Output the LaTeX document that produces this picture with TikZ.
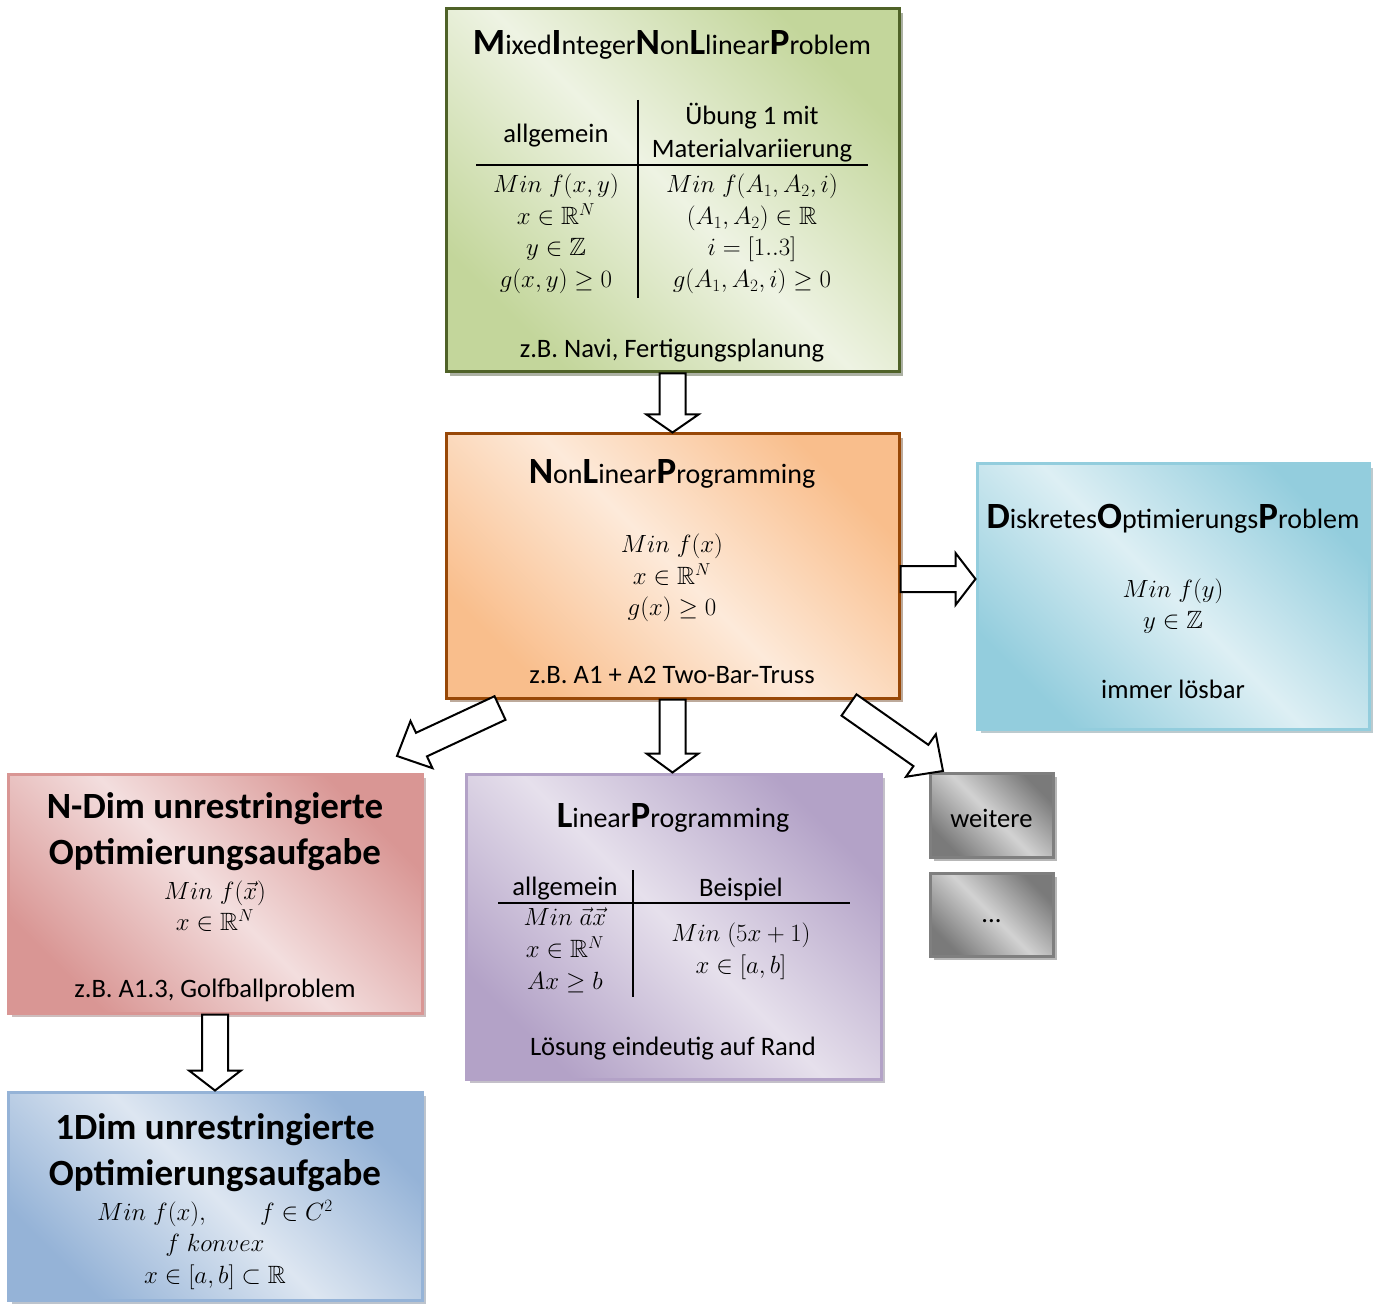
\documentclass[tikz,border=0pt]{standalone}
\usepackage{amsmath,amssymb}
\usepackage[no-math]{fontspec}
\setmainfont{Carlito}
\usetikzlibrary{calc,positioning,shadows}

\definecolor{minlpline}{HTML}{4F6228}
\definecolor{minlpdark}{HTML}{C3D69B}
\definecolor{minlplight}{HTML}{EEF3E3}
\definecolor{nlpline}{HTML}{984807}
\definecolor{nlpdark}{HTML}{F9BE8C}
\definecolor{nlplight}{HTML}{FDEADA}
\definecolor{dopline}{HTML}{93CDDD}
\definecolor{dopdark}{HTML}{93CDDD}
\definecolor{doplight}{HTML}{DDEFF4}
\definecolor{ndimline}{HTML}{D99694}
\definecolor{ndimdark}{HTML}{D99694}
\definecolor{ndimlight}{HTML}{F3DEDE}
\definecolor{lpline}{HTML}{B3A2C7}
\definecolor{lpdark}{HTML}{B3A2C7}
\definecolor{lplight}{HTML}{E6E0EC}
\definecolor{onedimline}{HTML}{95B3D7}
\definecolor{onedimdark}{HTML}{95B3D7}
\definecolor{onedimlight}{HTML}{DDE6F1}
\definecolor{moreline}{HTML}{7F7F7F}
\definecolor{moredark}{HTML}{7A7A7A}
\definecolor{morelight}{HTML}{D2D2D2}

% big bold initial letters of the titles
\newcommand{\capl}[1]{{\fontsize{37}{40}\selectfont\bfseries #1}}

\tikzset{
  colbox/.style n args={3}{rectangle, line width=3pt, inner sep=0pt, draw=#1,
    top color=#2, bottom color=#2, middle color=#3, shading angle=-45,
    drop shadow={shadow xshift=4pt, shadow yshift=-4pt, fill=#1!60!black, opacity=.4}},
  titletext/.style={font=\fontsize{28}{30}\selectfont, inner sep=0pt},
  headtext/.style={font=\fontsize{37}{46}\selectfont\bfseries, align=center, inner sep=0pt},
  bodytext/.style={font=\fontsize{26.6}{33}\selectfont, align=center, inner sep=0pt, yshift=-3pt},
  mathtext/.style={font=\fontsize{25}{31.5}\selectfont, align=center, inner sep=0pt},
  tablerule/.style={line width=2pt},
  fatarrow/.style={draw=black, fill=white, line width=2pt, line join=miter}
}

% block arrow from #2 to #3, head length #1
\newcommand{\blockarrow}[3][20pt]{%
  \coordinate (ba-h) at ($(#3)!#1!(#2)$);
  \draw[fatarrow] ($(#2)!13pt!90:(#3)$) -- ($(ba-h)!13pt!90:(#3)$)
    -- ($(ba-h)!26pt!90:(#3)$) -- (#3) -- ($(ba-h)!26pt!-90:(#3)$)
    -- ($(ba-h)!13pt!-90:(#3)$) -- ($(#2)!13pt!-90:(#3)$) -- cycle;}

\begin{document}
\begin{tikzpicture}[x=1pt,y=-1pt]
\useasboundingbox (0,0) rectangle (1377,1305);

%the boxes
\node[colbox={minlpline}{minlpdark}{minlplight}, minimum width=453pt, minimum height=363pt] (minlp) at (672.5,190.5) {};
\node[colbox={nlpline}{nlpdark}{nlplight}, minimum width=453pt, minimum height=264pt] (nlp) at (672.5,566) {};
\node[colbox={dopline}{dopdark}{doplight}, minimum width=392pt, minimum height=265pt] (dop) at (1173,596.5) {};
\node[colbox={ndimline}{ndimdark}{ndimlight}, minimum width=414pt, minimum height=239pt] (ndim) at (215,893.5) {};
\node[colbox={lpline}{lpdark}{lplight}, minimum width=415pt, minimum height=305pt] (lp) at (673.5,926.5) {};
\node[colbox={onedimline}{onedimdark}{onedimlight}, minimum width=414pt, minimum height=208pt] (onedim) at (215,1196) {};
\node[colbox={moreline}{moredark}{morelight}, minimum width=123pt, minimum height=84pt] (weitere) at (991.5,815) {};
\node[colbox={moreline}{moredark}{morelight}, minimum width=123pt, minimum height=83pt] (dots) at (991.5,914.5) {};

%MINLP
\node[titletext] (minlptitle) at (672,45) {\capl{M}ixed\capl{I}nteger\capl{N}on\capl{L}linear\capl{P}roblem};
\node[bodytext] (minlpleft) at (556,133) {allgemein};
\node[bodytext] (minlpright) at (752,130) {Übung 1 mit\\Materialvariierung};
\node[mathtext] (minlpgen) at (556,234) {$Min\;f(x,y)$\\$x\in\mathbb{R}^N$\\$y\in\mathbb{Z}$\\$g(x,y)\geq 0$};
\node[mathtext] (minlpex) at (752,234) {$Min\;f(A_1,A_2,i)$\\$(A_1,A_2)\in\mathbb{R}$\\$i=[1..3]$\\$g(A_1,A_2,i)\geq 0$};
\draw[tablerule] (638,100) -- (638,298);
\draw[tablerule] (476,165) -- (868,165);
\node[bodytext] (minlpfoot) at (672,348) {z.B. Navi, Fertigungsplanung};

%NLP
\node[titletext] (nlptitle) at (672,474) {\capl{N}on\capl{L}inear\capl{P}rogramming};
\node[mathtext] (nlpmath) at (672,578) {$Min\;f(x)$\\$x\in\mathbb{R}^N$\\$g(x)\geq 0$};
\node[bodytext] (nlpfoot) at (672,672) {z.B. A1 + A2 Two-Bar-Truss};

%DOP
\node[titletext] (doptitle) at (1173,519) {\capl{D}iskretes\capl{O}ptimierungs\capl{P}roblem};
\node[mathtext] (dopmath) at (1173,606) {$Min\;f(y)$\\$y\in\mathbb{Z}$};
\node[bodytext] (dopfoot) at (1173,686) {immer lösbar};

%N-Dim
\node[headtext] (ndimtitle) at (215,832) {N-Dim unrestringierte\\Optimierungsaufgabe};
\node[mathtext] (ndimmath) at (215,906) {$Min\;f(\vec{x})$\\$x\in\mathbb{R}^N$};
\node[bodytext] (ndimfoot) at (215,987) {z.B. A1.3, Golfballproblem};

%LP
\node[titletext] (lptitle) at (673,818) {\capl{L}inear\capl{P}rogramming};
\node[bodytext] (lpleft) at (565,886) {allgemein};
\node[bodytext] (lpright) at (741,886) {Beispiel};
\node[mathtext, font=\fontsize{25}{32}\selectfont] (lpgen) at (565,950) {$Min\;\vec{a}\vec{x}$\\$x\in\mathbb{R}^N$\\$Ax\geq b$};
\node[mathtext, font=\fontsize{25}{32}\selectfont] (lpex) at (741,951) {$Min\;(5x+1)$\\$x\in[a,b]$};
\draw[tablerule] (633,870) -- (633,997);
\draw[tablerule] (498,903) -- (850,903);
\node[bodytext] (lpfoot) at (673,1046) {Lösung eindeutig auf Rand};

%1Dim
\node[headtext] (onedimtitle) at (215,1153) {1Dim unrestringierte\\Optimierungsaufgabe};
\node[mathtext] (onedimmath) at (215,1245) {$Min\;f(x),\qquad f\in C^2$\\$f\;konvex$\\$x\in[a,b]\subset\mathbb{R}$};

%more
\node[bodytext] (weiteretext) at (weitere) {weitere};
\node[bodytext] (dotstext) at ([yshift=-4pt]dots) {...};

%the arrows
\coordinate (nlpright) at ([yshift=-13pt]nlp.east);
\coordinate (dopleft) at (dop.west |- nlpright);
\coordinate (nlpleftout) at (500,708);
\coordinate (ndimin) at (397,756);
\coordinate (nlprightout) at (849,705);
\coordinate (weiterein) at (943,771);
\coordinate (lpin) at (nlp.south |- lp.north);
\blockarrow[18pt]{minlp.south}{nlp.north}
\blockarrow{nlpright}{dopleft}
\blockarrow[19pt]{nlp.south}{lpin}
\blockarrow[27pt]{nlpleftout}{ndimin}
\blockarrow[27pt]{nlprightout}{weiterein}
\blockarrow{ndim.south}{onedim.north}

\end{tikzpicture}
\end{document}
